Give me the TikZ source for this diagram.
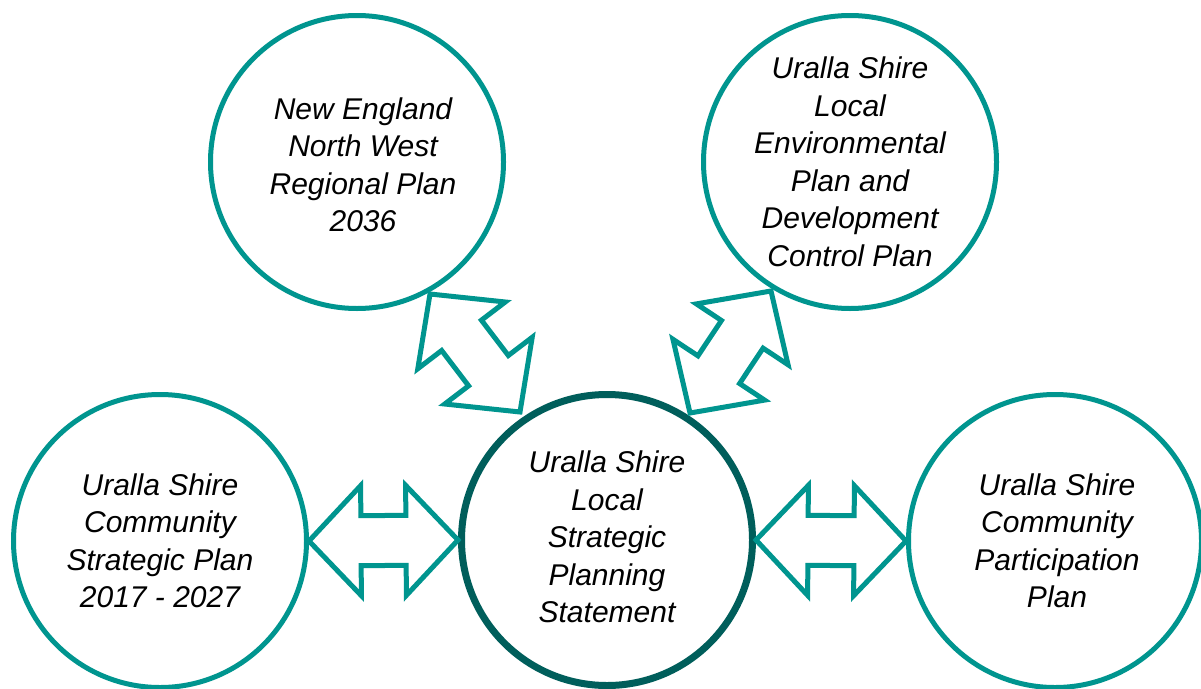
\documentclass[tikz,border=0pt]{standalone}
\usepackage{fontspec}
\setmainfont{Liberation Sans}
\usetikzlibrary{calc}
\definecolor{planteal}{HTML}{00958F}
\definecolor{coreteal}{HTML}{005E5B}
\tikzset{
  plan/.style={circle, draw=planteal, line width=5pt, minimum size=293pt, inner sep=0pt},
  core/.style={plan, draw=coreteal, line width=7pt, minimum size=291pt},
  plantext/.style={align=center, inner sep=0pt,
    font=\fontsize{30}{37.5}\selectfont\itshape},
  linkarrow/.style={draw=planteal, line width=5pt, line join=miter}
}
% two-headed block arrow between two tip points
\newcommand\blockarrow[2]{%
  \draw[linkarrow] (#1)
    -- ($(#1)!52pt!(#2)!55pt!90:(#2)$)
    -- ($(#1)!52pt!(#2)!25pt!90:(#2)$)
    -- ($(#2)!52pt!(#1)!25pt!-90:(#1)$)
    -- ($(#2)!52pt!(#1)!55pt!-90:(#1)$)
    -- (#2)
    -- ($(#2)!52pt!(#1)!55pt!90:(#1)$)
    -- ($(#2)!52pt!(#1)!25pt!90:(#1)$)
    -- ($(#1)!52pt!(#2)!25pt!-90:(#2)$)
    -- ($(#1)!52pt!(#2)!55pt!-90:(#2)$)
    -- cycle;}
\begin{document}
\begin{tikzpicture}[x=1pt, y=-1pt]
  \clip (0,0) rectangle (1201,688);
  \fill[white] (0,0) rectangle (1201,688);

  % plans
  \node[plan] (nerp) at (357,162) {};
  \node[plan] (lep)  at (850,162) {};
  \node[plan] (csp)  at (160,541) {};
  \node[core] (lsps) at (607,540) {};
  \node[plan] (cpp)  at (1055,541) {};

  \node[plantext] (nerpT) at ([shift={(6,3)}]nerp.center) {New England\\North West\\Regional Plan\\2036};
  \node[plantext] (lepT) at (lep.center) {Uralla Shire\\Local\\Environmental\\Plan and\\Development\\Control Plan};
  \node[plantext] (cspT) at (csp.center) {Uralla Shire\\Community\\Strategic Plan\\2017 - 2027};
  \node[plantext] (lspsT) at ([shift={(0,-3)}]lsps.center) {Uralla Shire\\Local\\Strategic\\Planning\\Statement};
  \node[plantext] (cppT) at ([shift={(2,0)}]cpp.center) {Uralla Shire\\Community\\Participation\\Plan};

  % links
  \coordinate (nerpTip) at (430,294);
  \coordinate (lspsTipL) at (520,412);
  \coordinate (lepTip) at (771,291);
  \coordinate (lspsTipR) at (690,413);

  \blockarrow{csp.east}{lsps.west}
  \blockarrow{lsps.east}{cpp.west}
  \blockarrow{nerpTip}{lspsTipL}
  \blockarrow{lepTip}{lspsTipR}
\end{tikzpicture}
\end{document}
